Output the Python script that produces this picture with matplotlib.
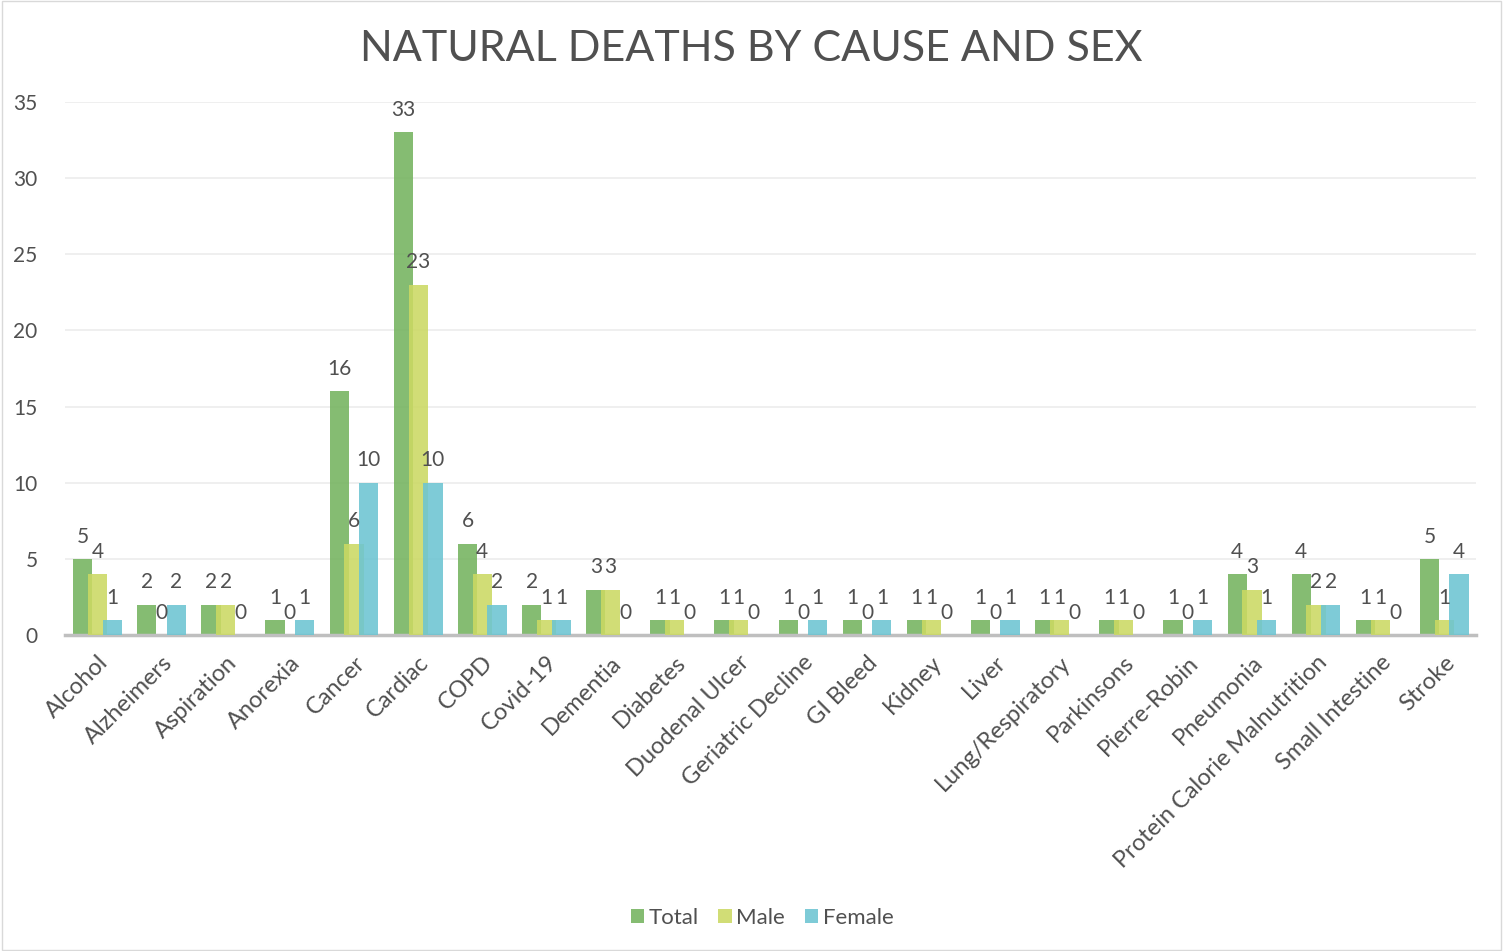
import matplotlib.pyplot as plt
import numpy as np

causes = ["Alcohol", "Alzheimers", "Aspiration", "Anorexia", "Cancer", "Cardiac",
          "COPD", "Covid-19", "Dementia", "Diabetes", "Duodenal Ulcer",
          "Geriatric Decline", "GI Bleed", "Kidney", "Liver", "Lung/Respiratory",
          "Parkinsons", "Pierre-Robin", "Pneumonia", "Protein Calorie Malnutrition",
          "Small Intestine", "Stroke"]
total = [5, 2, 2, 1, 16, 33, 6, 2, 3, 1, 1, 1, 1, 1, 1, 1, 1, 1, 4, 4, 1, 5]
male = [4, 0, 2, 0, 6, 23, 4, 1, 3, 1, 1, 0, 0, 1, 0, 1, 1, 0, 3, 2, 1, 1]
female = [1, 2, 0, 1, 10, 10, 2, 1, 0, 0, 0, 1, 1, 0, 1, 0, 0, 1, 1, 2, 0, 4]

series = [("Total", total, "#74b35e"), ("Male", male, "#cbd963"), ("Female", female, "#6cc4d2")]
text_col = "#505050"
plt.rcParams['font.family'] = ['Lato', 'DejaVu Sans']

fig = plt.figure(figsize=(15.03, 9.51), dpi=100)
ax = fig.add_axes([0.0435, 0.332, 0.9388, 0.561])

x = np.arange(len(causes))
w = 0.3
step = 0.23
for i, (name, vals, col) in enumerate(series):
    pos = x + (i - 1) * step
    ax.bar(pos, vals, width=w, color=col, alpha=0.88, label=name,
           linewidth=0, zorder=2 + i)
    for p, v in zip(pos, vals):
        ax.annotate(str(v), (p, v), xytext=(0, 9), textcoords="offset points",
                    ha="center", va="bottom", fontsize=15, color=text_col, zorder=10)

ax.set_xlim(-0.5, len(causes) - 0.5)
ax.set_ylim(0, 35)
ax.set_yticks(range(0, 36, 5))
ax.grid(axis="y", color="#ececec", linewidth=1.2, zorder=0)
ax.set_axisbelow(True)
for s in ["top", "right", "left"]:
    ax.spines[s].set_visible(False)
ax.spines["bottom"].set_color("#bfbfbf")
ax.spines["bottom"].set_linewidth(2.5)
ax.tick_params(axis="both", length=0, labelsize=15, colors=text_col)
ax.tick_params(axis="y", pad=20)
ax.tick_params(axis="x", labelsize=17, pad=12)
ax.set_xticks(x)
ax.set_xticklabels(causes, rotation=45, ha="right", rotation_mode="anchor")

fig.suptitle("NATURAL DEATHS BY CAUSE AND SEX", y=0.968, fontsize=31, color=text_col)

fig.legend(loc="lower center", bbox_to_anchor=(0.507, 0.003), ncol=3, frameon=False,
           fontsize=16, handlelength=0.6, handleheight=0.6, handletextpad=0.2,
           columnspacing=0.9, labelcolor=text_col)

fig.patches.append(plt.Rectangle((0.001, 0.001), 0.998, 0.998, transform=fig.transFigure,
                                 fill=False, edgecolor="#d9d9d9", linewidth=1))

fig.savefig("out.png", dpi=100)
